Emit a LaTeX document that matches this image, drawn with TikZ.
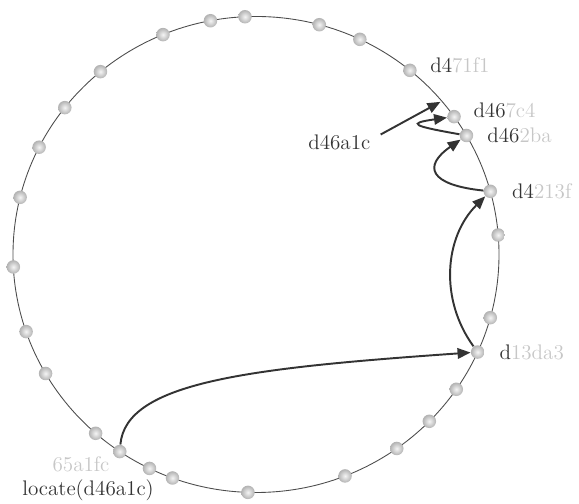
\documentclass[tikz,border=0pt]{standalone}
\usepackage{tikz}
\usetikzlibrary{arrows.meta, positioning, calc}
\tikzset{
    ringLine/.style={line width=0.5pt, draw=black!70},
    peerNode/.style={circle, inner sep=0pt, minimum size=2.7mm, shading=radial, inner color=black!4, outer color=black!30},
    peerLabel/.style={inner sep=0pt, font=\fontsize{12}{14}\selectfont, text=black!80},
    hopLine/.style={line width=1.1pt, draw=black!80, -{Triangle[length=2.6mm, width=2.1mm]}}
}
\newcommand{\peerId}[2]{#1\textcolor{black!22}{#2}}

\begin{document}
\begin{tikzpicture}
    \useasboundingbox (0,0) rectangle (11.58,10.08);

    % --- Ring of peers ---
    \begin{scope}[shift={(5.12,4.99)}]
        \draw[ringLine] (0,0) ellipse [x radius=4.86, y radius=4.76];

        % Plain peers
        \foreach \a [count=\i] in {4.7, 64.7, 74.9, 92.6, 100.8, 112.5, 129.8, 141.9, 153.2, 166.1, 183.0,
                                   198.9, 210, 228.7, 244, 249.9, 268.1, 291.5, 305.4, 315.5, 325.5, 344.6} {
            \node[peerNode] (p\i) at (\a:4.86 and 4.76) {};
        }

        % Peers on the lookup path
        \node[peerNode] (n471f1) at (50.7:4.86 and 4.76) {};
        \node[peerNode] (n467c4) at (35.4:4.86 and 4.76) {};
        \node[peerNode] (n462ba) at (30.0:4.86 and 4.76) {};
        \node[peerNode] (n4213f) at (15.4:4.86 and 4.76) {};
        \node[peerNode] (n13da3) at (335.8:4.86 and 4.76) {};
        \node[peerNode] (n65a1fc) at (235.9:4.86 and 4.76) {};

        % Position of the key
        \coordinate (key) at (40.2:4.83 and 4.73);
    \end{scope}

    % --- Labels ---
    \node[peerLabel, right=0.26cm of n471f1, yshift=1mm] (l471f1) {\peerId{d4}{71f1}};
    \node[peerLabel, right=0.24cm of n467c4, yshift=1.2mm] (l467c4) {\peerId{d46}{7c4}};
    \node[peerLabel, right=0.27cm of n462ba] (l462ba) {\peerId{d46}{2ba}};
    \node[peerLabel, right=0.29cm of n4213f] (l4213f) {\peerId{d4}{213f}};
    \node[peerLabel, right=0.29cm of n13da3] (l13da3) {\peerId{d}{13da3}};
    \node[peerLabel, below left=0cm and 1mm of n65a1fc, text=black!22] (l65a1fc) {65a1fc};

    \node[peerLabel, anchor=west] (query) at (0.44,0.28) {locate(d46a1c)};
    \node[peerLabel, anchor=west] (keyLabel) at (6.16,7.24) {d46a1c};

    % --- Lookup hops ---
    \draw[hopLine] (n65a1fc) .. controls +(85:1.39) and +(184:4.61) .. (n13da3);
    \draw[hopLine] (n13da3) .. controls +(126:1.3) and +(225:1.3) .. (n4213f);
    \draw[hopLine] (n4213f) .. controls +(174:1.22) and +(215:1.08) .. (n462ba);
    \draw[hopLine] (n462ba) .. controls +(170:1.1) and +(188:0.96) .. (n467c4);
    \draw[hopLine] ([shift={(0.2,0.15)}]keyLabel.east) -- (key);

\end{tikzpicture}
\end{document}
